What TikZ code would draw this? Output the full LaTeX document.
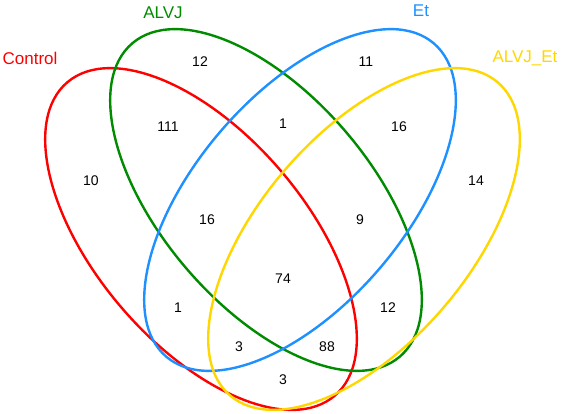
\documentclass[tikz,border=0pt]{standalone}
\usepackage{fontspec}
\setmainfont{Liberation Sans}
\definecolor{vred}{HTML}{FF0000}
\definecolor{vgreen}{HTML}{008B00}
\definecolor{vblue}{HTML}{1E90FF}
\definecolor{vgold}{HTML}{FFD700}
\begin{document}
\begin{tikzpicture}[x=1pt, y=-1pt, line width=2.4pt,
  every node/.style={font=\fontsize{14}{16}\selectfont},
  setname/.style={font=\fontsize{17}{20}\selectfont}]
  \useasboundingbox (0,0) rectangle (561,413);
  \coordinate (C) at (201,239); \coordinate (A) at (266,200);
  \coordinate (E) at (300,200); \coordinate (AE) at (364,239);
  \draw[vred, shift={(C)}, rotate=-49.5] (0,0) ellipse [x radius=206, y radius=105];
  \draw[vgreen, shift={(A)}, rotate=-49.5] (0,0) ellipse [x radius=206, y radius=105];
  \draw[vblue, shift={(E)}, rotate=49.5] (0,0) ellipse [x radius=206, y radius=105];
  \draw[vgold, shift={(AE)}, rotate=49.5] (0,0) ellipse [x radius=206, y radius=105];
  \node[setname, text=vred] (lC) at (30,58) {Control};
  \node[setname, text=vgreen] (lA) at (163,13) {ALVJ};
  \node[setname, text=vblue] (lE) at (421,11) {Et};
  \node[setname, text=vgold] (lAE) at (525,58) {ALVJ\_Et};
  \foreach \n/\x/\y/\v in {a/200/62/12, b/168/127/111, c/91/181/10, d/366/62/11,
    e/283/124/1, f/399/127/16, g/476/181/14, h/207/220/16, i/360/220/9,
    j/283/279/74, k/178/308/1, l/388/308/12, m/239/347/3, o/327/347/88, p/283/380/3}
    \node (n\n) at (\x,\y) {\v};
\end{tikzpicture}
\end{document}
